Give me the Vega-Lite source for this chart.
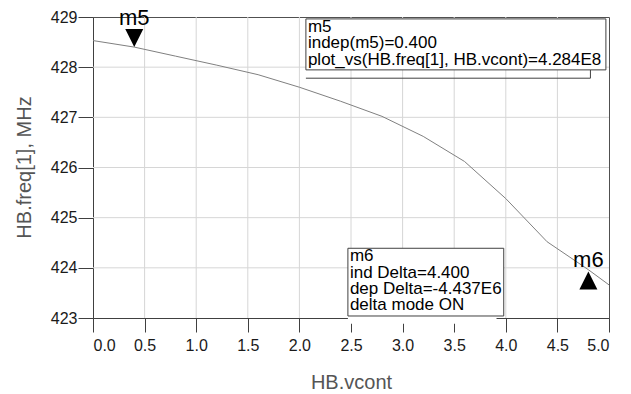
{
  "$schema": "https://vega.github.io/schema/vega-lite/v6.json",
  "width": 516,
  "height": 301,
  "autosize": "none",
  "padding": {"left": 93, "top": 17, "right": 22, "bottom": 76},
  "background": "white",
  "config": {
    "view": {"stroke": "#505050", "strokeWidth": 1},
    "font": "Liberation Sans",
    "text": {"lineBreak": "\n"},
    "axis": {
      "grid": false,
      "domainColor": "#404040",
      "tickColor": "#404040",
      "labelFont": "Liberation Sans",
      "labelFontSize": 16,
      "labelColor": "#1a1a1a",
      "titleFont": "Liberation Sans",
      "titleFontSize": 20,
      "titleFontWeight": "normal",
      "titleColor": "#555555"
    }
  },
  "datasets": {
    "curve": [
      {"vcont": 0.0, "freq": 428.53},
      {"vcont": 0.4, "freq": 428.40},
      {"vcont": 0.8, "freq": 428.22},
      {"vcont": 1.2, "freq": 428.04},
      {"vcont": 1.6, "freq": 427.85},
      {"vcont": 2.0, "freq": 427.60},
      {"vcont": 2.4, "freq": 427.32},
      {"vcont": 2.8, "freq": 427.02},
      {"vcont": 3.2, "freq": 426.62},
      {"vcont": 3.6, "freq": 426.12},
      {"vcont": 4.0, "freq": 425.38},
      {"vcont": 4.4, "freq": 424.52},
      {"vcont": 4.8, "freq": 423.963},
      {"vcont": 5.0, "freq": 423.66}
    ],
    "gridx": [
      {"v": 0.5}, {"v": 1.0}, {"v": 1.5}, {"v": 2.0}, {"v": 2.5},
      {"v": 3.0}, {"v": 3.5}, {"v": 4.0}, {"v": 4.5}
    ],
    "gridy": [
      {"v": 424}, {"v": 425}, {"v": 426}, {"v": 427}, {"v": 428}
    ],
    "markers": [
      {"name": "m5", "vcont": 0.4, "freq": 428.4, "dir": "down"},
      {"name": "m6", "vcont": 4.8, "freq": 423.963, "dir": "up"}
    ],
    "boxes": [
      {"x1": 2.063, "x2": 4.97, "y1": 428.962, "y2": 427.946, "label": "m5\nindep(m5)=0.400\nplot_vs(HB.freq[1], HB.vcont)=4.284E8"},
      {"x1": 2.47, "x2": 3.98, "y1": 424.39, "y2": 423.04, "label": "m6\nind Delta=4.400\ndep Delta=-4.437E6\ndelta mode ON"}
    ],
    "shadow": [
      {"vcont": 2.063, "freq": 427.78},
      {"vcont": 4.82, "freq": 427.78},
      {"vcont": 4.82, "freq": 427.946}
    ],
    "mask": [
      {"x1": 2.47, "x2": 3.91, "y1": 423.04, "y2": 422.886}
    ]
  },
  "layer": [
    {
      "data": {"name": "gridx"},
      "mark": {"type": "rule", "color": "#d6d6d6", "strokeWidth": 1},
      "encoding": {
        "x": {
          "field": "v", "type": "quantitative",
          "scale": {"domain": [0, 5], "nice": false, "zero": false},
          "axis": {
            "title": "HB.vcont",
            "values": [0, 0.5, 1, 1.5, 2, 2.5, 3, 3.5, 4, 4.5, 5],
            "format": ".1f",
            "grid": false,
            "tickSize": 14,
            "labelPadding": 5,
            "titleY": 70,
            "titleBaseline": "alphabetic"
          }
        }
      }
    },
    {
      "data": {"name": "gridy"},
      "mark": {"type": "rule", "color": "#d6d6d6", "strokeWidth": 1},
      "encoding": {
        "y": {
          "field": "v", "type": "quantitative",
          "scale": {"domain": [423, 429], "nice": false, "zero": false},
          "axis": {
            "title": "HB.freq[1], MHz",
            "values": [423, 423.5, 424, 424.5, 425, 425.5, 426, 426.5, 427, 427.5, 428, 428.5, 429],
            "labelExpr": "datum.value % 1 === 0 ? datum.label : ''",
            "tickSize": {"condition": {"test": "datum.value % 1 !== 0", "value": 7}, "value": 15},
            "grid": false,
            "labelPadding": 1,
            "titleX": -63,
            "titleY": 150,
            "titleAngle": -90,
            "titleAlign": "center",
            "titleBaseline": "alphabetic"
          }
        }
      }
    },
    {
      "data": {"name": "curve"},
      "mark": {"type": "line", "color": "#808080", "strokeWidth": 1},
      "encoding": {
        "x": {"field": "vcont", "type": "quantitative"},
        "y": {"field": "freq", "type": "quantitative"}
      }
    },
    {
      "data": {"name": "shadow"},
      "mark": {"type": "line", "color": "#404040", "strokeWidth": 1},
      "encoding": {
        "x": {"field": "vcont", "type": "quantitative"},
        "y": {"field": "freq", "type": "quantitative"},
        "order": {"field": "vcont", "type": "quantitative"}
      }
    },
    {
      "data": {"name": "mask"},
      "mark": {"type": "rect", "fill": "white", "strokeWidth": 0},
      "encoding": {
        "x": {"field": "x1", "type": "quantitative"},
        "x2": {"field": "x2"},
        "y": {"field": "y1", "type": "quantitative"},
        "y2": {"field": "y2"}
      }
    },
    {
      "data": {"name": "boxes"},
      "mark": {"type": "rect", "fill": "white", "stroke": "#404040", "strokeWidth": 1},
      "encoding": {
        "x": {"field": "x1", "type": "quantitative"},
        "x2": {"field": "x2"},
        "y": {"field": "y1", "type": "quantitative"},
        "y2": {"field": "y2"}
      }
    },
    {
      "data": {"name": "boxes"},
      "mark": {"type": "text", "align": "left", "baseline": "top", "dx": 2, "dy": 0, "fontSize": 17, "lineHeight": 16.4, "color": "#000000", "font": "Liberation Sans"},
      "encoding": {
        "x": {"field": "x1", "type": "quantitative"},
        "y": {"field": "y1", "type": "quantitative"},
        "text": {"field": "label"}
      }
    },
    {
      "data": {"name": "markers"},
      "mark": {"type": "point", "filled": true, "color": "#000000", "size": 324, "opacity": 1},
      "encoding": {
        "x": {"field": "vcont", "type": "quantitative"},
        "y": {"field": "freq", "type": "quantitative"},
        "shape": {"field": "dir", "type": "nominal", "scale": {"domain": ["down", "up"], "range": ["M-1,-2L1,-2L0,0Z", "M0,0.2L1,2.2L-1,2.2Z"]}, "legend": null}
      }
    },
    {
      "data": {"name": "markers"},
      "transform": [{"filter": "datum.name === 'm5'"}],
      "mark": {"type": "text", "align": "center", "baseline": "alphabetic", "dy": -22, "fontSize": 22, "color": "#000000", "font": "Liberation Sans"},
      "encoding": {
        "x": {"field": "vcont", "type": "quantitative"},
        "y": {"field": "freq", "type": "quantitative"},
        "text": {"field": "name"}
      }
    },
    {
      "data": {"name": "markers"},
      "transform": [{"filter": "datum.name === 'm6'"}],
      "mark": {"type": "text", "align": "center", "baseline": "alphabetic", "dy": -3, "fontSize": 22, "color": "#000000", "font": "Liberation Sans"},
      "encoding": {
        "x": {"field": "vcont", "type": "quantitative"},
        "y": {"field": "freq", "type": "quantitative"},
        "text": {"field": "name"}
      }
    }
  ]
}
